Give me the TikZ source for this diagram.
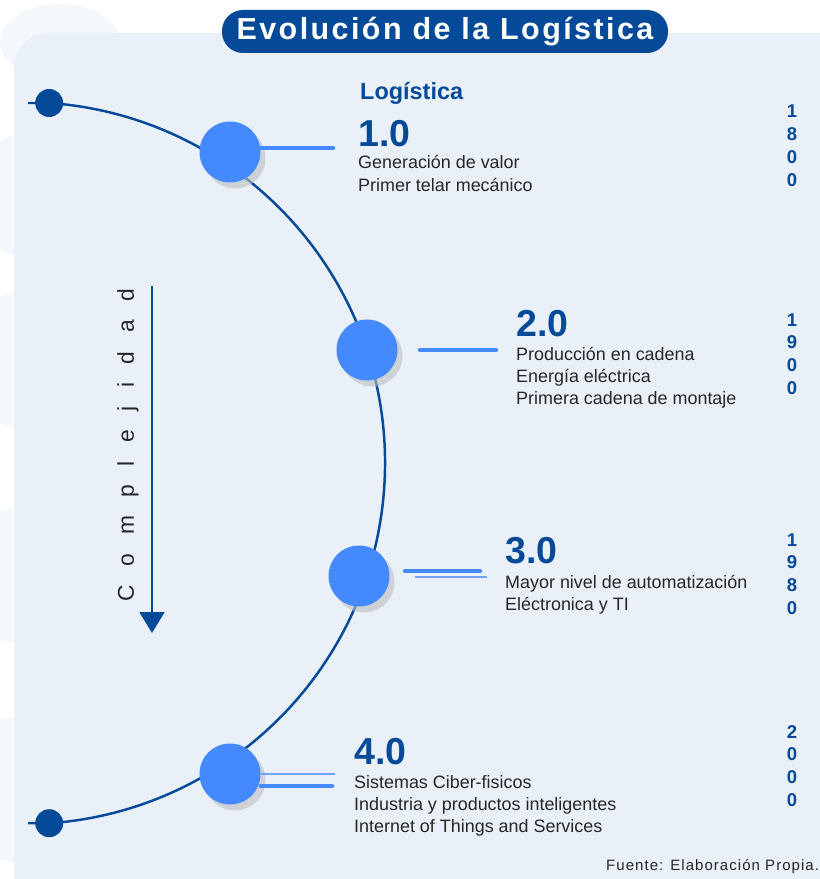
\documentclass[tikz,border=0pt]{standalone}
\usepackage{fontspec}
\setmainfont{Liberation Sans}
\newfontfamily\titulofont[LetterSpace=8]{Liberation Sans}
\newfontfamily\fuentefont[LetterSpace=7]{Liberation Sans}
\newfontfamily\espaciada[LetterSpace=81]{Liberation Sans}
\usetikzlibrary{arrows.meta}
\usetikzlibrary{positioning}

\definecolor{azul}{RGB}{4,74,153}
\definecolor{azulclaro}{RGB}{69,137,255}
\definecolor{azulfino}{RGB}{112,162,255}
\definecolor{fondo}{RGB}{233,240,248}
\definecolor{mancha}{RGB}{244,247,251}
\definecolor{texto}{RGB}{38,38,38}

\pgfdeclarelayer{background}
\pgfsetlayers{background,main}

\tikzset{
    hito/.style={
           circle,
           fill=azulclaro,
           minimum size=1.83cm,
           inner sep=0pt,
           },
    sombra/.style={
           circle,
           fill=black!25,
           opacity=0.6,
           minimum size=1.83cm,
           inner sep=0pt,
           },
    punto/.style={
           circle,
           fill=azul,
           minimum size=0.84cm,
           inner sep=0pt,
           },
    version/.style={
           anchor=base west,
           inner sep=0pt,
           text=azul,
           font=\bfseries\fontsize{32}{32}\selectfont,
           },
    detalle/.style={
           anchor=base west,
           inner sep=0pt,
           text=texto,
           font=\fontsize{15.3}{19.2}\selectfont,
           },
    anio/.style={
           anchor=base,
           inner sep=0pt,
           text=azul,
           font=\bfseries\fontsize{15.8}{19.6}\selectfont,
           },
    barra/.style={line width=3.8pt, line cap=round, draw=azulclaro},
    filete/.style={line width=1.2pt, draw=azulfino},
    arco/.style={line width=2.1pt, draw=azul},
}

\begin{document}
\begin{tikzpicture}[x=0.03cm,y=-0.03cm]

 \useasboundingbox (0,0) rectangle (819,879);

 % Title on top of the panel
 \node[rounded corners=0.63cm,
  fill=azul,
  minimum width=13.38cm,
  minimum height=1.29cm,
  text=white,
  font=\titulofont\bfseries\fontsize{26}{26}\selectfont] (Titulo) at (445,31.5)
  {Evolución de la Logística};

 % the four steps, placed along the arc
 \node[hito] (Hito 1) at (230,152) {};
 \node[hito] (Hito 2) at (367,350) {};
 \node[hito] (Hito 3) at (359,576) {};
 \node[hito] (Hito 4) at (230,774) {};

 % end points of the arc
 \node[punto] (Punto 1) at (49.2,103) {};
 \node[punto] (Punto 2) at (49.2,823.2) {};
 \coordinate (Marca 1) at (28,103);
 \coordinate (Marca 2) at (28,823.2);

 % free ends of the bars
 \coordinate (Fin 1) at (333,148);
 \coordinate (Inicio 2) at (420,350);
 \coordinate (Fin 2) at (496,350);
 \coordinate (Inicio 3) at (405,571);
 \coordinate (Fin 3) at (480,571);
 \coordinate (Inicio 3b) at (415,577);
 \coordinate (Fin 3b) at (487,577);
 \coordinate (Fin 4) at (332,786);
 \coordinate (Fino 4) at (335,774);

 % texts of each step
 \node[anchor=base west, inner sep=0pt, text=azul,
  font=\bfseries\fontsize{20}{20}\selectfont] (Logistica) at (360,100) {Logística};

 \node[version] (Version 1) at (358,147) {1.0};
 \node[detalle] (Texto 1) at ([shift={(0,22)}]Version 1.base west)
 {\begin{tabular}[t]{@{}l@{}}
  Generación de valor\\
  Primer telar mecánico
 \end{tabular}};

 \node[version] (Version 2) at (516,336) {2.0};
 \node[detalle] (Texto 2) at ([shift={(0,24)}]Version 2.base west)
 {\begin{tabular}[t]{@{}l@{}}
  Producción en cadena\\
  Energía eléctrica\\
  Primera cadena de montaje
 \end{tabular}};

 \node[version] (Version 3) at (505,563) {3.0};
 \node[detalle] (Texto 3) at ([shift={(0,25)}]Version 3.base west)
 {\begin{tabular}[t]{@{}l@{}}
  Mayor nivel de automatización\\
  Eléctronica y TI
 \end{tabular}};

 \node[version] (Version 4) at (354,764) {4.0};
 \node[detalle] (Texto 4) at ([shift={(0,24)}]Version 4.base west)
 {\begin{tabular}[t]{@{}l@{}}
  Sistemas Ciber-fisicos\\
  Industria y productos inteligentes\\
  Internet of Things and Services
 \end{tabular}};

 % years, one digit per row
 \node[anio] (Anio 1) at (792,118) {\begin{tabular}[t]{@{}c@{}}1\\8\\0\\0\end{tabular}};
 \node[anio] (Anio 2) at (792,326) {\begin{tabular}[t]{@{}c@{}}1\\9\\0\\0\end{tabular}};
 \node[anio] (Anio 3) at (792,546) {\begin{tabular}[t]{@{}c@{}}1\\9\\8\\0\end{tabular}};
 \node[anio] (Anio 4) at (792,738) {\begin{tabular}[t]{@{}c@{}}2\\0\\0\\0\end{tabular}};

 % complexity arrow
 \coordinate (Inicio C) at (152,286);
 \coordinate (Fin C) at (152,633);
 \node[rotate=90, inner sep=0pt, text=texto,
  font=\espaciada\fontsize{19.5}{20}\selectfont] (Complejidad) at (128,445) {Complejidad};
 \draw[azul, line width=1.7pt, -{Triangle[width=0.75cm,length=0.63cm]}] (Inicio C) -- (Fin C);

 \node[anchor=base west, inner sep=0pt, text=texto,
  font=\fuentefont\fontsize{12.8}{13}\selectfont] (Fuente) at (606,870) {Fuente: Elaboración Propia.};

 \begin{pgfonlayer}{background}
  % faint blobs and the panel
  \fill[mancha] (60,42) ellipse[x radius=60, y radius=38];
  \fill[mancha] (30,195) circle[radius=62];
  \fill[mancha] (30,360) circle[radius=70];
  \fill[mancha] (30,575) circle[radius=70];
  \fill[mancha] (30,790) circle[radius=75];
  \fill[fondo, rounded corners=1.05cm] (14,33) rectangle (860,920);

  % the arc through the steps
  \draw[arco] (Marca 1) -- (Punto 1.center) arc[start angle=86, end angle=-86, radius=10.83cm] -- (Marca 2);

  % shadows
  \node[sombra] at ([shift={(5,6)}]Hito 1.center) {};
  \node[sombra] at ([shift={(5,6)}]Hito 2.center) {};
  \node[sombra] at ([shift={(5,6)}]Hito 3.center) {};
  \node[sombra] at ([shift={(5,6)}]Hito 4.center) {};

  % bars
  \draw[barra] (Hito 1.east |- Fin 1) -- (Fin 1);
  \draw[barra] (Inicio 2) -- (Fin 2);
  \draw[barra] (Inicio 3) -- (Fin 3);
  \draw[filete] (Inicio 3b) -- (Fin 3b);
  \draw[filete] (Hito 4.east) -- (Fino 4);
  \draw[barra] (Hito 4.east |- Fin 4) -- (Fin 4);
 \end{pgfonlayer}

\end{tikzpicture}
\end{document}
